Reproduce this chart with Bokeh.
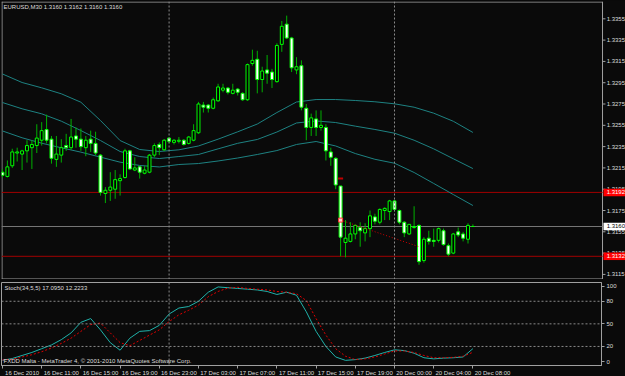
from bokeh.plotting import figure
from bokeh.layouts import column
from bokeh.models import ColumnDataSource, Range1d, FixedTicker, Span, Label
from bokeh.core.properties import value
from bokeh.embed import file_html
from bokeh.resources import INLINE

# ---------------- data ----------------
opens = [1.3211, 1.3207, 1.3217, 1.3229, 1.3228, 1.3231, 1.3234, 1.3236, 1.3241, 1.3251,
         1.3242, 1.3223, 1.3227, 1.3236, 1.3234, 1.3245, 1.3242, 1.3234, 1.3242, 1.3238,
         1.3227, 1.3191, 1.3194, 1.3195, 1.3203, 1.3206, 1.3231, 1.3213, 1.3216, 1.3210,
         1.3211, 1.3227, 1.3237, 1.3232, 1.3243, 1.3239, 1.3240, 1.3241, 1.3238, 1.3241,
         1.3248, 1.3274, 1.3274, 1.3271, 1.3278, 1.3288, 1.3290, 1.3285, 1.3289, 1.3285,
         1.3279, 1.3313, 1.3317, 1.3298, 1.3307, 1.3305, 1.3296, 1.3331, 1.3350, 1.3337,
         1.3307, 1.3311, 1.3271, 1.3253, 1.3261, 1.3253, 1.3253, 1.3230, 1.3224, 1.3198,
         1.3145, 1.3146, 1.3153, 1.3159, 1.3154, 1.3158, 1.3169, 1.3164, 1.3175, 1.3174,
         1.3184, 1.3175, 1.3164, 1.3153, 1.3159, 1.3161, 1.3128, 1.3149, 1.3147, 1.3147,
         1.3156, 1.3142, 1.3135, 1.3155, 1.3153, 1.3148, 1.3160]
highs = [1.3214, 1.3222, 1.3233, 1.3234, 1.3232, 1.3241, 1.3241, 1.3256, 1.3258, 1.3265,
         1.3245, 1.3245, 1.3242, 1.3247, 1.3261, 1.3253, 1.3252, 1.3245, 1.3250, 1.3249,
         1.3228, 1.3197, 1.3211, 1.3213, 1.3209, 1.3233, 1.3232, 1.3225, 1.3217, 1.3217,
         1.3228, 1.3238, 1.3239, 1.3242, 1.3244, 1.3242, 1.3244, 1.3242, 1.3245, 1.3256,
         1.3277, 1.3277, 1.3275, 1.3281, 1.3294, 1.3294, 1.3291, 1.3294, 1.3290, 1.3286,
         1.3313, 1.3326, 1.3325, 1.3310, 1.3321, 1.3308, 1.3332, 1.3353, 1.3358, 1.3338,
         1.3319, 1.3316, 1.3275, 1.3266, 1.3269, 1.3269, 1.3256, 1.3234, 1.3225, 1.3198,
         1.3166, 1.3164, 1.3162, 1.3164, 1.3163, 1.3175, 1.3172, 1.3177, 1.3178, 1.3185,
         1.3185, 1.3176, 1.3165, 1.3162, 1.3179, 1.3162, 1.3150, 1.3156, 1.3158, 1.3159,
         1.3158, 1.3144, 1.3154, 1.3159, 1.3155, 1.3163, 1.3162]
lows = [1.3206, 1.3206, 1.3215, 1.3221, 1.3213, 1.3220, 1.3214, 1.3229, 1.3236, 1.3238,
        1.3219, 1.3216, 1.3220, 1.3231, 1.3232, 1.3234, 1.3231, 1.3226, 1.3230, 1.3227,
        1.3189, 1.3182, 1.3184, 1.3186, 1.3189, 1.3205, 1.3213, 1.3212, 1.3205, 1.3209,
        1.3210, 1.3225, 1.3227, 1.3231, 1.3238, 1.3237, 1.3238, 1.3236, 1.3237, 1.3240,
        1.3247, 1.3267, 1.3267, 1.3270, 1.3277, 1.3286, 1.3284, 1.3284, 1.3283, 1.3278,
        1.3278, 1.3311, 1.3285, 1.3286, 1.3294, 1.3290, 1.3295, 1.3324, 1.3336, 1.3305,
        1.3303, 1.3269, 1.3241, 1.3245, 1.3245, 1.3250, 1.3222, 1.3217, 1.3195, 1.3132,
        1.3131, 1.3145, 1.3148, 1.3141, 1.3146, 1.3150, 1.3162, 1.3162, 1.3166, 1.3166,
        1.3174, 1.3162, 1.3150, 1.3152, 1.3158, 1.3124, 1.3126, 1.3143, 1.3141, 1.3145,
        1.3142, 1.3132, 1.3134, 1.3150, 1.3146, 1.3144, 1.3160]
closes = [1.3208, 1.3216, 1.3230, 1.3230, 1.3231, 1.3236, 1.3237, 1.3243, 1.3250, 1.3241,
          1.3224, 1.3228, 1.3234, 1.3234, 1.3244, 1.3242, 1.3235, 1.3241, 1.3238, 1.3229,
          1.3192, 1.3194, 1.3197, 1.3204, 1.3205, 1.3231, 1.3214, 1.3215, 1.3211, 1.3213,
          1.3227, 1.3236, 1.3234, 1.3241, 1.3240, 1.3241, 1.3241, 1.3237, 1.3244, 1.3250,
          1.3275, 1.3272, 1.3271, 1.3279, 1.3291, 1.3290, 1.3286, 1.3288, 1.3286, 1.3279,
          1.3312, 1.3316, 1.3298, 1.3306, 1.3304, 1.3298, 1.3330, 1.3348, 1.3337, 1.3309,
          1.3310, 1.3272, 1.3253, 1.3262, 1.3253, 1.3255, 1.3231, 1.3225, 1.3199, 1.3150,
          1.3149, 1.3153, 1.3161, 1.3156, 1.3158, 1.3170, 1.3165, 1.3176, 1.3177, 1.3184,
          1.3176, 1.3164, 1.3154, 1.3162, 1.3160, 1.3127, 1.3148, 1.3146, 1.3146, 1.3158,
          1.3143, 1.3134, 1.3153, 1.3152, 1.3149, 1.3161, 1.3160]
bar_index = list(range(len(opens)))

band_index = [0, 4, 8, 12, 16, 20, 24, 28, 32, 36, 40, 44, 48, 52, 56, 60, 64, 68, 72, 76, 80, 84, 88, 92, 96]
bb_upper = [1.33032, 1.32952, 1.32902, 1.32846, 1.32767, 1.32595, 1.32407, 1.32323, 1.32304, 1.32320,
            1.32356, 1.32420, 1.32489, 1.32562, 1.32670, 1.32769, 1.32792, 1.32792, 1.32783, 1.32771,
            1.32752, 1.32720, 1.32664, 1.32588, 1.32483]
bb_middle = [1.32764, 1.32705, 1.32658, 1.32589, 1.32501, 1.32407, 1.32304, 1.32257, 1.32238, 1.32257,
             1.32276, 1.32329, 1.32381, 1.32417, 1.32487, 1.32572, 1.32591, 1.32576, 1.32542, 1.32511,
             1.32476, 1.32410, 1.32329, 1.32236, 1.32144]
bb_lower = [1.32497, 1.32433, 1.32382, 1.32339, 1.32298, 1.32251, 1.32204, 1.32173, 1.32159, 1.32182,
            1.32191, 1.32215, 1.32243, 1.32276, 1.32313, 1.32370, 1.32398, 1.32356, 1.32285, 1.32231,
            1.32194, 1.32107, 1.32004, 1.31900, 1.31797]

stoch_index = list(range(0, 97, 2))
stoch_main = [1.5, 4, 8, 12, 17, 22, 29, 38, 52, 57, 42, 25, 15, 31, 40, 41, 48, 63, 71, 73,
              80, 92, 99, 98, 97, 96, 95, 93, 89, 92, 88, 66, 40, 20, 6, 1.5, 2.5, 4.5, 8, 12,
              15.5, 14.5, 11, 5, 3.5, 4.5, 5, 6, 17.095]
stoch_signal = [2, 3, 6, 9, 13, 18, 24, 31, 40, 49, 51, 38, 25, 21, 28, 35, 42, 53, 62, 68,
                75, 86, 93, 97.5, 98.5, 97, 96, 95, 93, 92, 90, 81, 57, 35, 17, 7, 2.5, 3.5, 6, 10,
                14, 14, 12, 8, 5, 5, 5.5, 7, 12.2233]
stoch_levels = [20, 50, 80]
stoch_ticks = [0, 20, 50, 80, 100]

time_tick_bars = [0, 8, 16, 24, 32, 40, 48, 56, 64, 72, 80, 88, 96]
time_tick_labels = ["16 Dec 2010", "16 Dec 11:00", "16 Dec 15:00", "16 Dec 19:00", "16 Dec 23:00",
                    "17 Dec 03:00", "17 Dec 07:00", "17 Dec 11:00", "17 Dec 15:00", "17 Dec 19:00",
                    "20 Dec 00:00", "20 Dec 04:00", "20 Dec 08:00"]
day_separator_bars = [34, 80]

price_ticks = [1.3115, 1.3135, 1.3155, 1.3175, 1.3195, 1.3215, 1.3235, 1.3255, 1.3275,
               1.3295, 1.3315, 1.3335, 1.3355]
price_tick_labels = ["1.3115", "1.3135", "1.3155", "1.3175", "1.3195", "1.3215", "1.3235",
                     "1.3255", "1.3275", "1.3295", "1.3315", "1.3335", "1.3355"]
red_levels = [1.3192, 1.3132]
red_level_labels = ["1.3192", "1.3132"]
bid_price = [1.3160]
bid_label = ["1.3160"]

trade_bars = [69, 85]
trade_prices = [1.3166, 1.3141]
stop_bar = [69]
stop_price = [1.3205]

# ---------------- style / layout constants ----------------
BG = "#0a0a0a"
FRAME = "#a0a0a0"
TXT = "#dcdcdc"
FONT = "Liberation Sans"
FS = "6px"
WICK = "#00b000"
BODY_LINE = "#00ff00"
TEAL = "#1e8282"
SEP = "#8a8a8a"

X0 = -0.2          # left edge of the chart (bar units)
AXIS_X = 122.45    # position of the price scale line (bar units)
X_END_MAIN = 127.14
Y_BOT, Y_TOP = 1.311022, 1.337126
PX = (Y_TOP - Y_BOT) / 278.0   # price per pixel in the main window

main = figure(frame_width=624, frame_height=278,
              x_range=Range1d(X0, X_END_MAIN), y_range=Range1d(Y_BOT, Y_TOP),
              x_axis_location=None, y_axis_location=None,
              toolbar_location=None, output_backend="svg",
              background_fill_color=BG, border_fill_color=BG,
              min_border_left=1, min_border_top=1, min_border_bottom=0, min_border_right=0,
              outline_line_color=None)
main.grid.visible = False

# chart border and price scale line
main.segment(x0=[X0, X0, X0 + 0.1], y0=[Y_TOP - 0.5 * PX, Y_BOT + 0.5 * PX, Y_BOT],
             x1=[AXIS_X, AXIS_X, X0 + 0.1], y1=[Y_TOP - 0.5 * PX, Y_BOT + 0.5 * PX, Y_TOP],
             line_color=FRAME, line_width=1)
main.segment(x0=[AXIS_X], y0=[Y_BOT], x1=[AXIS_X], y1=[Y_TOP], line_color=FRAME, line_width=1)

# separators and levels
for b in day_separator_bars:
    main.add_layout(Span(location=b, dimension="height", line_color=SEP, line_dash="2 2", line_width=1))
main.segment(x0=[X0] * 2, y0=red_levels, x1=[AXIS_X] * 2, y1=red_levels,
             line_color="#a00000", line_width=1)
main.segment(x0=[X0], y0=bid_price, x1=[AXIS_X], y1=bid_price, line_color="#777777", line_width=1)

# Bollinger bands
main.line(band_index, bb_upper, line_color=TEAL, line_width=1)
main.line(band_index, bb_middle, line_color=TEAL, line_width=1)
main.line(band_index, bb_lower, line_color=TEAL, line_width=1)

# candles
tops = [max(o, c) for o, c in zip(opens, closes)]
bottoms = [min(o, c) for o, c in zip(opens, closes)]
fills = ["#000000" if c >= o else "#ffffff" for o, c in zip(opens, closes)]
src = ColumnDataSource(dict(x=bar_index, o=opens, h=highs, l=lows, c=closes,
                            top=tops, bottom=bottoms, fill=fills))
main.segment(x0="x", y0="l", x1="x", y1="h", source=src, line_color=WICK, line_width=1)
main.vbar(x="x", top="top", bottom="bottom", width=0.6, fill_color="fill",
          line_color=BODY_LINE, line_width=1, source=src)

# trade history marks
main.line(trade_bars, trade_prices, line_color="#d00000", line_dash="1 2", line_width=1)
main.scatter(trade_bars[:1], trade_prices[:1], marker="square", size=4,
             fill_color="#ffd0d0", line_color="#ff3030")
main.scatter(stop_bar, stop_price, marker="dash", size=5, line_color="#c00000", line_width=2)

# price scale: ticks and labels
n = len(price_ticks)
main.segment(x0=[AXIS_X] * n, y0=price_ticks, x1=[AXIS_X + 0.6] * n, y1=price_ticks,
             line_color=FRAME, line_width=1)
main.text(x=[AXIS_X + 0.85] * n, y=price_ticks, text=price_tick_labels,
          text_font=value(FONT), text_font_size=value(FS), text_color=TXT,
          text_baseline="middle", text_align="left")

# price tags on the scale
TAG_H = 7.5 * PX
main.quad(left=[AXIS_X + 0.2] * 2, right=[X_END_MAIN] * 2,
          bottom=[v - TAG_H / 2 for v in red_levels], top=[v + TAG_H / 2 for v in red_levels],
          fill_color="#ff0000", line_color=None)
main.text(x=[AXIS_X + 0.85] * 2, y=red_levels, text=red_level_labels,
          text_font=value(FONT), text_font_size=value(FS), text_color="#ffffff",
          text_baseline="middle", text_align="left")
main.quad(left=[AXIS_X + 0.2], right=[X_END_MAIN],
          bottom=[v - TAG_H / 2 for v in bid_price], top=[v + TAG_H / 2 for v in bid_price],
          fill_color="#ffffff", line_color=None)
main.text(x=[AXIS_X + 0.85], y=bid_price, text=bid_label,
          text_font=value(FONT), text_font_size=value(FS), text_color="#000000",
          text_baseline="middle", text_align="left")

main.add_layout(Label(x=X0, y=Y_TOP - 2 * PX, x_offset=2,
                      text="EURUSD,M30  1.3160 1.3162 1.3160 1.3160",
                      text_font=FONT, text_font_size=FS, text_color=TXT, text_baseline="top"))

# ---------------- stochastic window ----------------
sub = figure(frame_width=600, frame_height=83, x_range=Range1d(X0, 122.24),
             y_range=Range1d(-5.31, 104.9),
             y_axis_location="right", toolbar_location=None, output_backend="svg",
             background_fill_color=BG, border_fill_color=BG,
             min_border_left=1, min_border_top=3, min_border_bottom=0, min_border_right=0,
             outline_line_color=FRAME)
sub.grid.visible = False
sub.yaxis[0].ticker = FixedTicker(ticks=stoch_ticks)

for lv in stoch_levels:
    sub.add_layout(Span(location=lv, dimension="width", line_color=SEP, line_dash="2 2", line_width=1))
for b in day_separator_bars:
    sub.add_layout(Span(location=b, dimension="height", line_color=SEP, line_dash="2 2", line_width=1))

sub.line(stoch_index, stoch_main, line_color="#20b2aa", line_width=1)
sub.line(stoch_index, stoch_signal, line_color="#e00000", line_width=1, line_dash="2 2")

sub.add_layout(Label(x=X0, y=102.0, x_offset=3, text="Stoch(34,5,5) 17.0950 12.2233",
                     text_font=FONT, text_font_size=FS, text_color=TXT, text_baseline="top"))
sub.add_layout(Label(x=X0, y=-2.8, x_offset=2,
                     text="FXDD Malta - MetaTrader 4, \u00a9 2001-2010 MetaQuotes Software Corp.",
                     text_font=FONT, text_font_size=FS, text_color=TXT, text_baseline="bottom"))

# time axis: minor ticks at bar times, labels placed to the right of each tick
label_pos = [b + 4 for b in time_tick_bars]
xa = sub.xaxis[0]
xa.ticker = FixedTicker(ticks=label_pos, minor_ticks=time_tick_bars)
xa.major_label_overrides = {p: t for p, t in zip(label_pos, time_tick_labels)}
xa.major_tick_out = 0
xa.major_tick_in = 0
xa.minor_tick_out = 3
xa.minor_tick_in = 0
xa.minor_tick_line_color = FRAME
xa.major_label_standoff = 1

ya = sub.yaxis[0]
ya.major_tick_line_color = FRAME
ya.major_tick_out = 3
ya.major_tick_in = 0
ya.minor_tick_line_color = None
ya.major_label_standoff = 2

for ax in [ya, xa]:
    ax.axis_line_color = FRAME
    ax.major_label_text_color = TXT
    ax.major_label_text_font = FONT
    ax.major_label_text_font_size = FS

layout = column(main, sub, spacing=0, background=BG)
html = file_html(layout, INLINE, title="EURUSD M30")
html = html.replace("<body>", '<body style="margin:0;background:#0a0a0a;">')
open("out.html", "w").write(html)
